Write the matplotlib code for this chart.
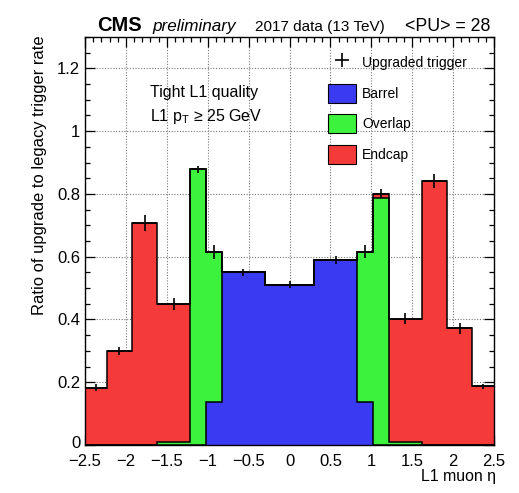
import numpy as np
import matplotlib
matplotlib.use("Agg")
import matplotlib.pyplot as plt
from matplotlib.patches import Patch
from matplotlib.ticker import MultipleLocator
from matplotlib.transforms import ScaledTranslation

plt.rcParams['font.family'] = ['Liberation Sans', 'DejaVu Sans']

# Bin edges in L1 muon eta
edges = [-2.5, -2.23, -1.93, -1.615, -1.22, -1.025, -0.83, -0.3,
         0.3, 0.83, 1.025, 1.22, 1.615, 1.93, 2.23, 2.5]
# Stacked contributions per bin
barrel = [0, 0, 0, 0, 0, 0.137, 0.550, 0.511, 0.590, 0.137, 0, 0, 0, 0, 0]
overlap = [0, 0, 0, 0.010, 0.878, 0.477, 0, 0, 0, 0.479, 0.787, 0.010, 0, 0, 0]
endcap = [0.183, 0.299, 0.707, 0.439, 0, 0, 0, 0, 0, 0, 0.014, 0.393, 0.842, 0.372, 0.187]
errors = [0.010, 0.012, 0.025, 0.020, 0.012, 0.022, 0.012, 0.012, 0.012, 0.020, 0.015, 0.018, 0.022, 0.018, 0.008]
xticks = [-2.5, -2, -1.5, -1, -0.5, 0, 0.5, 1, 1.5, 2, 2.5]
xticklabels = ['\u22122.5', '\u22122', '\u22121.5', '\u22121', '\u22120.5', '0',
               '0.5', '1', '1.5', '2', '2.5']
yticks = [0, 0.2, 0.4, 0.6, 0.8, 1.0, 1.2]
yticklabels = ['0', '0.2', '0.4', '0.6', '0.8', '1', '1.2']

W, H = 519, 493
fig = plt.figure(figsize=(W / 100, H / 100), dpi=100)
ax = fig.add_axes([85 / W, 1 - 445 / H, (494 - 85) / W, (445 - 37) / H])

e = np.array(edges)
b = np.array(barrel)
o = np.array(overlap)
c = np.array(endcap)
err = np.array(errors)

blue, green, red = '#3a3af2', '#3cf23c', '#f53a3a'
layers = [(b, blue), (b + o, green), (b + o + c, red)]
prev = np.zeros_like(b)
for cum, col in layers:
    ax.stairs(cum, e, baseline=prev, fill=True, color=col, lw=0, zorder=2)
    prev = cum
for cum, col in layers:
    ax.stairs(cum, e, baseline=None, fill=False, color='black', lw=1.1, zorder=3)

tot = b + o + c
centers = 0.5 * (e[1:] + e[:-1])
half = 0.5 * np.diff(e)
eb = ax.errorbar(centers, tot, xerr=half, yerr=err, fmt='none', ecolor='black',
                 elinewidth=1.2, zorder=4)

ax.set_xlim(-2.5, 2.5)
ax.set_ylim(0, 1.3)
ax.xaxis.set_minor_locator(MultipleLocator(0.1))
ax.yaxis.set_minor_locator(MultipleLocator(0.05))
ax.set_yticks(yticks)
ax.set_yticklabels(yticklabels)
ax.set_xticks(xticks)
ax.set_xticklabels(xticklabels)
ax.tick_params(which='both', direction='in', top=True, right=True, labelsize=12,
               width=0.9, zorder=5)
ax.tick_params(which='major', length=7)
ax.tick_params(axis='x', which='major', pad=6.5)
ax.tick_params(axis='y', which='major', pad=3.5)
ax.tick_params(which='minor', length=3.5)
ax.grid(True, which='major', linestyle=(0, (1, 1.5)), color='#777777', lw=0.8)
ax.set_axisbelow(True)
for s in ax.spines.values():
    s.set_linewidth(1.0)
    s.set_zorder(6)
# nudge the y "0" label up slightly, as in the reference
ylab0 = ax.get_yticklabels()[0]
ylab0.set_transform(ylab0.get_transform() + ScaledTranslation(0, 3 / 100, fig.dpi_scale_trans))

# Legend
handles = [eb,
           Patch(facecolor=blue, edgecolor='black', lw=0.8),
           Patch(facecolor=green, edgecolor='black', lw=0.8),
           Patch(facecolor=red, edgecolor='black', lw=0.8)]
labels = ['Upgraded trigger', 'Barrel', 'Overlap', 'Endcap']
leg = fig.legend(handles, labels, loc='upper left',
                 bbox_to_anchor=(328 / W, 1 - 53 / H), frameon=False,
                 fontsize=10, handlelength=2.0, handleheight=1.75,
                 labelspacing=0.82, handletextpad=0.45, borderpad=0,
                 borderaxespad=0)

# Texts
fig.text(150 / W, 1 - 93 / H, 'Tight L1 quality', fontsize=11.5, va='center', ha='left')
fig.text(150 / W, 1 - 117 / H, 'L1 p$_\\mathregular{T}$ \u2265 25 GeV', fontsize=11.5,
         va='center', ha='left')

yb = 1 - 31 / H
fig.text(97 / W, yb, 'CMS', fontsize=14.5, fontweight='bold', va='baseline')
fig.text(152 / W, yb, 'preliminary', fontsize=12.3, style='italic', va='baseline')
fig.text(255 / W, yb, '2017 data (13 TeV)', fontsize=11, va='baseline')
fig.text(490 / W, yb, '<PU> = 28', fontsize=12.8, va='baseline', ha='right')

fig.text(40 / W, 1 - 35 / H, 'Ratio of upgrade to legacy trigger rate', rotation=90,
         fontsize=11.9, ha='center', va='top')
fig.text(496 / W, 1 - 477 / H, 'L1 muon \u03b7', fontsize=11.4, ha='right', va='center')

fig.savefig('out.png', dpi=100)
